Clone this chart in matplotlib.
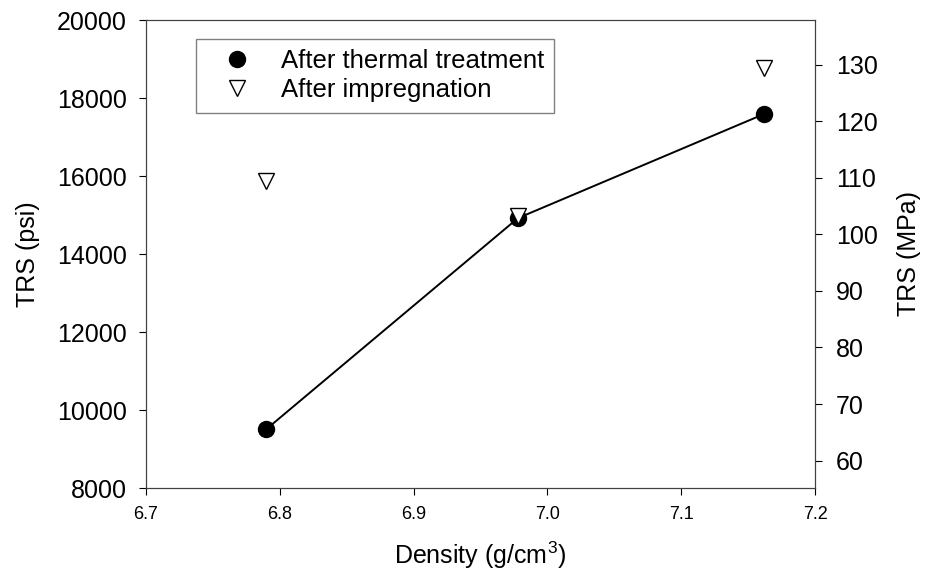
import matplotlib
matplotlib.use("Agg")
import matplotlib.pyplot as plt

plt.rcParams["font.family"] = ["Liberation Sans", "DejaVu Sans"]
plt.rcParams["mathtext.fontset"] = "custom"
plt.rcParams["mathtext.rm"] = "Liberation Sans"
plt.rcParams["mathtext.it"] = "Liberation Sans"
plt.rcParams["mathtext.default"] = "regular"

PSI_PER_MPA = 145.038

density = [6.79, 6.978, 7.162]
trs_thermal = [9510, 14920, 17590]
trs_impreg = [15880, 14980, 18780]

fig = plt.figure(figsize=(9.26, 5.75), dpi=100)
ax = fig.add_axes([146 / 926, 1 - 488 / 575, (815 - 146) / 926, (488 - 20) / 575])

ax.plot(density, trs_thermal, "-", color="black", lw=1.4, marker="o", ms=11.5,
        mfc="black", mec="black", label="After thermal treatment", zorder=3)
ax.plot(density, trs_impreg, ls="none", marker="v", ms=11, mfc="white", mec="black",
        mew=1.0, label="After impregnation", zorder=4)

ax.set_xlim(6.7, 7.2)
ax.set_ylim(8000, 20000)
ax.set_xticks([6.7, 6.8, 6.9, 7.0, 7.1, 7.2])
ax.set_xticklabels(["6.7", "6.8", "6.9", "7.0", "7.1", "7.2"])
ax.set_yticks(range(8000, 20001, 2000))
ax.tick_params(axis="x", labelsize=13, direction="out", length=5, pad=8)
ax.tick_params(axis="y", labelsize=18, direction="out", length=5, pad=9)
ax.set_xlabel("Density (g/cm$^3$)", fontsize=18, labelpad=12)
ax.set_ylabel("TRS (psi)", fontsize=18, labelpad=12)
for s in ax.spines.values():
    s.set_color("#404040")

# right axis: same data expressed in MPa
ax2 = ax.twinx()
ax2.set_ylim(8000 / PSI_PER_MPA, 20000 / PSI_PER_MPA)
ax2.set_yticks(range(60, 131, 10))
ax2.tick_params(axis="y", labelsize=18, direction="out", length=5, pad=10)
ax2.set_ylabel("TRS (MPa)", fontsize=18, labelpad=14)
for s in ax2.spines.values():
    s.set_color("#404040")

leg = ax.legend(loc="upper left", bbox_to_anchor=(50 / 669, 1 - 19 / 468), fontsize=18.5,
                frameon=True, fancybox=False, edgecolor="#606060", borderpad=0.4,
                handletextpad=0.5, labelspacing=0.2, borderaxespad=0, handlelength=2.4)
leg.get_frame().set_linewidth(1.0)
# show only markers in the legend
for h in leg.legend_handles:
    h.set_linestyle("none")

fig.savefig("out.png", dpi=100)
